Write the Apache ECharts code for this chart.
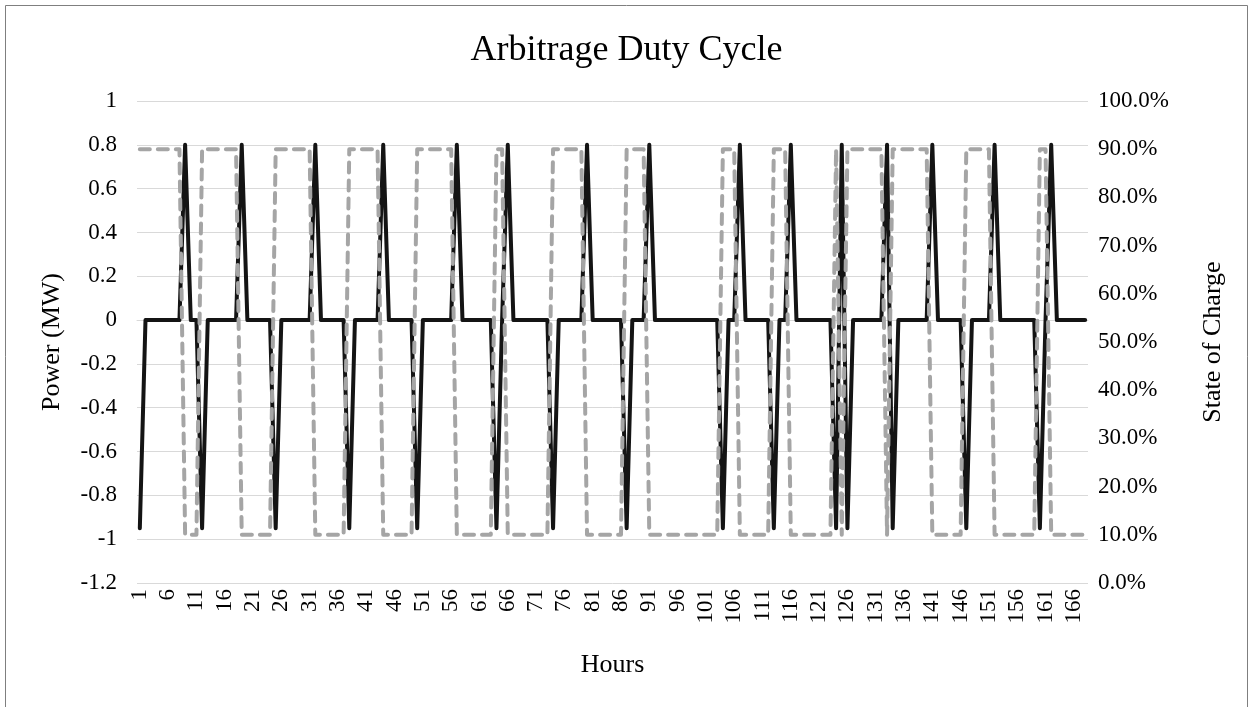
<!DOCTYPE html>
<html>
<head>
<meta charset="utf-8">
<title>Arbitrage Duty Cycle</title>
<script src="https://cdn.jsdelivr.net/npm/echarts@6/dist/echarts.min.js"></script>
<style>
  html, body { margin: 0; padding: 0; background: #fff; }
  #chart { width: 1253px; height: 707px; }
</style>
</head>
<body>
<div id="chart"></div>
<script>
// hours 1..168
var hours = [];
for (var h = 1; h <= 168; h++) hours.push(String(h));

// power (MW), one row per day
var powerDay1 = [-0.95,0,0,0,0,0,0,0,0.8,0,0,-0.95,0,0,0,0,0,0,0.8,0,0,0,0,0];
var powerDay2 = [-0.95,0,0,0,0,0,0,0.8,0,0,0,0,0,-0.95,0,0,0,0,0,0.8,0,0,0,0];
var powerDay3 = [0,-0.95,0,0,0,0,0,0,0.8,0,0,0,0,0,0,-0.95,0,0.8,0,0,0,0,0,0];
var powerDay4 = [0,-0.95,0,0,0,0,0,0.8,0,0,0,0,0,0,-0.95,0,0,0,0.8,0,0,0,0,0];
var powerDay5 = [0,0,0,0,0,0,0,-0.95,0,0,0.8,0,0,0,0,0,-0.95,0,0,0.8,0,0,0,0];
var powerDay6 = [0,0,0,-0.95,0.8,-0.95,0,0,0,0,0,0,0.8,-0.95,0,0,0,0,0,0,0.8,0,0,0];
var powerDay7 = [0,0,-0.95,0,0,0,0,0.8,0,0,0,0,0,0,0,-0.95,0,0.8,0,0,0,0,0,0];

// state of charge (%), one row per day
var socDay1 = [90,90,90,90,90,90,90,90,10,10,10,90,90,90,90,90,90,90,10,10,10,10,10,10];
var socDay2 = [90,90,90,90,90,90,90,10,10,10,10,10,10,90,90,90,90,90,90,10,10,10,10,10];
var socDay3 = [10,90,90,90,90,90,90,90,10,10,10,10,10,10,10,90,90,10,10,10,10,10,10,10];
var socDay4 = [10,90,90,90,90,90,90,10,10,10,10,10,10,10,90,90,90,90,10,10,10,10,10,10];
var socDay5 = [10,10,10,10,10,10,10,90,90,90,10,10,10,10,10,10,90,90,90,10,10,10,10,10];
var socDay6 = [10,10,10,90,10,90,90,90,90,90,90,90,10,90,90,90,90,90,90,90,10,10,10,10];
var socDay7 = [10,10,90,90,90,90,90,10,10,10,10,10,10,10,10,90,90,10,10,10,10,10,10,10];

var power = [].concat(powerDay1, powerDay2, powerDay3, powerDay4, powerDay5, powerDay6, powerDay7);
var soc = [].concat(socDay1, socDay2, socDay3, socDay4, socDay5, socDay6, socDay7);

var font = '"Liberation Serif", "Times New Roman", serif';

var myChart = echarts.init(document.getElementById('chart'));
var option = {
    backgroundColor: '#fff',
    animation: false,
    title: {
        text: 'Arbitrage Duty Cycle',
        left: 'center',
        top: 28,
        textStyle: { fontFamily: font, fontSize: 36, fontWeight: 'normal', color: '#000' }
    },
    graphic: [{
        type: 'rect',
        shape: { x: 5.5, y: 5.5, width: 1242, height: 712 },
        style: { fill: 'none', stroke: '#7f7f7f', lineWidth: 1 },
        silent: true
    }],
    grid: { left: 137, right: 165, top: 101, bottom: 124 },
    xAxis: {
        type: 'category',
        data: hours,
        boundaryGap: true,
        name: 'Hours',
        nameLocation: 'middle',
        nameGap: 69,
        nameTextStyle: { fontFamily: font, fontSize: 26, color: '#000', verticalAlign: 'top' },
        axisLine: { lineStyle: { color: '#d9d9d9' } },
        axisTick: { show: false },
        axisLabel: {
            interval: 4,
            rotate: 90,
            margin: 6,
            padding: [8, 0, 0, 0],
            fontFamily: font,
            fontSize: 23,
            color: '#000'
        }
    },
    yAxis: [
        {
            type: 'value',
            min: -1.2,
            max: 1,
            interval: 0.2,
            name: 'Power (MW)',
            nameLocation: 'middle',
            nameGap: 72,
            nameTextStyle: { fontFamily: font, fontSize: 26, color: '#000' },
            axisLine: { show: false },
            axisTick: { show: false },
            splitLine: { lineStyle: { color: '#d9d9d9', width: 1 } },
            axisLabel: {
                margin: 20,
                fontFamily: font,
                fontSize: 23,
                color: '#000',
                formatter: function (v) { return String(+v.toFixed(1)); }
            }
        },
        {
            type: 'value',
            min: 0,
            max: 100,
            interval: 10,
            name: 'State of Charge',
            nameLocation: 'middle',
            nameGap: 112,
            nameTextStyle: { fontFamily: font, fontSize: 26, color: '#000' },
            axisLine: { show: false },
            axisTick: { show: false },
            splitLine: { show: false },
            axisLabel: {
                margin: 10,
                fontFamily: font,
                fontSize: 23,
                color: '#000',
                formatter: function (v) { return v.toFixed(1) + '%'; }
            }
        }
    ],
    series: [
        {
            name: 'Power',
            type: 'line',
            yAxisIndex: 0,
            data: power,
            symbol: 'none',
            lineStyle: { color: '#141414', width: 4, cap: 'round', join: 'round' }
        },
        {
            name: 'State of Charge',
            type: 'line',
            yAxisIndex: 1,
            data: soc,
            symbol: 'none',
            lineStyle: { color: '#a5a5a5', width: 4, type: [10, 8], cap: 'round', join: 'round' }
        }
    ]
};
myChart.setOption(option);
</script>
</body>
</html>
